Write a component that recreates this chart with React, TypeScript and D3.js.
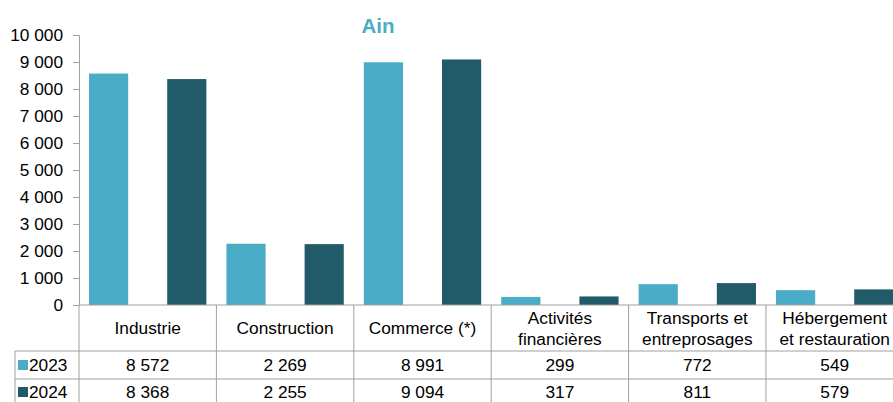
import React, { useEffect, useRef } from 'react';
import * as d3 from 'd3';

const categories = [
  ['Industrie'],
  ['Construction'],
  ['Commerce (*)'],
  ['Activités', 'financières'],
  ['Transports et', 'entreprosages'],
  ['Hébergement', 'et restauration'],
];
const years = ['2023', '2024'];
const values2023 = [8572, 2269, 8991, 299, 772, 549];
const values2024 = [8368, 2255, 9094, 317, 811, 579];
const yTicks = [0, 1000, 2000, 3000, 4000, 5000, 6000, 7000, 8000, 9000, 10000];
const colors = ['#4aacc6', '#215a69'];

const fmt = (v: number) => d3.format(',')(v).replace(/,/g, ' ');

const App = () => {
  const svgRef = useRef<SVGSVGElement>(null);

  useEffect(() => {
    const svg = d3.select(svgRef.current);
    svg.selectAll('*').remove();

    const left = 79;
    const colW = 137.4;
    const top = 35;
    const base = 305;
    const font = '"Liberation Sans", Arial, sans-serif';
    const fs = '17.3px';
    const lineColor = '#a0a0a0';

    const x = d3.scaleBand<number>()
      .domain(d3.range(categories.length))
      .range([left, left + colW * categories.length]);
    const y = d3.scaleLinear().domain([0, 10000]).range([base, top]);

    const series = [values2023, values2024];
    const barW = colW * 0.285;
    const offsets = [colW * 0.073, colW * 0.642];

    // title
    svg.append('text')
      .attr('x', 378).attr('y', 33)
      .attr('text-anchor', 'middle')
      .style('font-family', font).style('font-size', '20.5px').style('font-weight', 'bold')
      .attr('fill', '#4aacc6')
      .text('Ain');

    // bars
    series.forEach((vals, s) => {
      svg.append('g').selectAll('rect')
        .data(vals)
        .enter()
        .append('rect')
        .attr('x', (d, i) => (x(i) as number) + offsets[s])
        .attr('y', d => y(d))
        .attr('width', barW)
        .attr('height', d => base - y(d))
        .attr('fill', colors[s]);
    });

    // y axis
    const yAxis = svg.append('g')
      .attr('transform', `translate(${left},0)`)
      .call(d3.axisLeft(y).tickValues(yTicks).tickSize(6).tickPadding(10).tickFormat(d => fmt(d as number)));
    yAxis.select('.domain').attr('stroke', lineColor);
    yAxis.selectAll('.tick line').attr('stroke', lineColor);
    yAxis.selectAll('.tick text')
      .style('font-family', font).style('font-size', fs).attr('fill', '#000');

    // table
    const rowBase = [371, 398];
    const rightEdge = left + colW * categories.length;
    const g = svg.append('g');

    g.append('line').attr('x1', left).attr('x2', rightEdge).attr('y1', base).attr('y2', base)
      .attr('stroke', lineColor);
    [351, 379].forEach(yy => {
      g.append('line').attr('x1', 15).attr('x2', rightEdge).attr('y1', yy).attr('y2', yy)
        .attr('stroke', lineColor);
    });
    g.append('line').attr('x1', 15).attr('x2', 15).attr('y1', 351).attr('y2', 410)
      .attr('stroke', lineColor);
    d3.range(categories.length + 1).forEach(i => {
      const xx = left + colW * i;
      g.append('line').attr('x1', xx).attr('x2', xx).attr('y1', base).attr('y2', 410)
        .attr('stroke', lineColor);
    });

    // header labels
    categories.forEach((lines, i) => {
      const cx = (x(i) as number) + colW / 2;
      const startY = lines.length === 1 ? 334 : 324;
      lines.forEach((t, j) => {
        g.append('text')
          .attr('x', cx).attr('y', startY + j * 21)
          .attr('text-anchor', 'middle')
          .style('font-family', font).style('font-size', fs)
          .text(t);
      });
    });

    // data rows
    series.forEach((vals, s) => {
      const ty = rowBase[s];
      g.append('rect')
        .attr('x', 18).attr('y', ty - 11).attr('width', 10).attr('height', 10)
        .attr('fill', colors[s]);
      g.append('text')
        .attr('x', 29).attr('y', ty)
        .style('font-family', font).style('font-size', fs)
        .text(years[s]);
      vals.forEach((v, i) => {
        g.append('text')
          .attr('x', (x(i) as number) + colW / 2).attr('y', ty)
          .attr('text-anchor', 'middle')
          .style('font-family', font).style('font-size', fs)
          .text(fmt(v));
      });
    });
  }, []);

  return (
    <svg
      ref={svgRef}
      width={893}
      height={402}
      style={{ position: 'absolute', left: 0, top: 0, background: '#fff' }}
    />
  );
};

export default App;
